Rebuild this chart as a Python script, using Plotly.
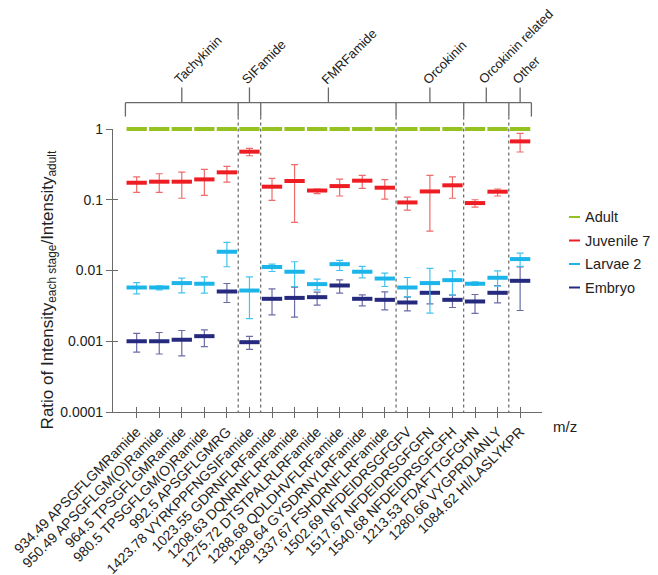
import plotly.graph_objects as go

labels = [
    "934.49 APSGFLGMRamide", "950.49 APSGFLGM(O)Ramide", "964.5 TPSGFLGMRamide",
    "980.5 TPSGFLGM(O)Ramide", "992.5 APSGFLGMRG", "1423.78 VYRKPPFNGSIFamide",
    "1023.55 GDRNFLRFamide", "1208.63 DQNRNFLRFamide", "1275.72 DTSTPALRLRFamide",
    "1288.68 QDLDHVFLRFamide", "1289.64 GYSDRNYLRFamide", "1337.67 FSHDRNFLRFamide",
    "1502.69 NFDEIDRSGFGFV", "1517.67 NFDEIDRSGFGFN", "1540.68 NFDEIDRSGFGFH",
    "1213.53 FDAFTTGFGHN", "1280.66 VYGPRDIANLY", "1084.62 HI/LASLYKPR",
]
groups = ["Tachykinin", "SIFamide", "FMRFamide", "Orcokinin", "Orcokinin related", "Other"]
group_sizes = [5, 1, 6, 3, 2, 1]

series_names = ["Adult", "Juvenile 7", "Larvae 2", "Embryo"]

adult = [1, 1, 1, 1, 1, 1, 1, 1, 1, 1, 1, 1, 1, 1, 1, 1, 1, 1]

juvenile = [0.174, 0.18, 0.18, 0.194, 0.244, 0.478, 0.153, 0.184, 0.135, 0.156,
            0.186, 0.148, 0.0916, 0.131, 0.16, 0.0898, 0.13, 0.668]
juvenile_hi = [0.21, 0.233, 0.246, 0.268, 0.296, 0.532, 0.2, 0.313, 0.142, 0.196,
               0.221, 0.192, 0.109, 0.221, 0.211, 0.1, 0.142, 0.867]
juvenile_lo = [0.127, 0.127, 0.105, 0.115, 0.178, 0.419, 0.098, 0.048, 0.122, 0.113,
               0.145, 0.102, 0.0715, 0.036, 0.105, 0.0788, 0.113, 0.473]

larvae = [0.00575, 0.00575, 0.00664, 0.0065, 0.0184, 0.00521, 0.0112, 0.0096, 0.00642, 0.0123,
          0.0096, 0.0077, 0.00575, 0.00664, 0.00731, 0.0065, 0.00789, 0.0145]
larvae_hi = [0.00676, 0.00608, 0.0078, 0.00813, 0.0249, 0.00813, 0.0123, 0.0133, 0.00755, 0.0139,
             0.0114, 0.00919, 0.00796, 0.0107, 0.0099, 0.00692, 0.0099, 0.0176]
larvae_lo = [0.00468, 0.00533, 0.00484, 0.0048, 0.0113, 0.00209, 0.00968, 0.00594, 0.00533, 0.01,
             0.00789, 0.00594, 0.00428, 0.0025, 0.00453, 0.00614, 0.006, 0.0114]

embryo = [0.001, 0.001, 0.00105, 0.00118, 0.00505, 0.00097, 0.00398, 0.0041, 0.0042, 0.00614,
          0.00398, 0.00385, 0.00353, 0.00484, 0.00385, 0.00365, 0.00484, 0.00715]
embryo_hi = [0.00129, 0.00133, 0.00142, 0.00145, 0.00655, 0.00117, 0.0055, 0.00582, 0.00494, 0.00738,
             0.00453, 0.005, 0.0042, 0.00664, 0.0045, 0.00458, 0.00614, 0.0112]
embryo_lo = [0.0007, 0.00066, 0.00062, 0.00084, 0.00353, 0.00077, 0.00236, 0.00219, 0.00323, 0.00478,
             0.00316, 0.00278, 0.00269, 0.00338, 0.003, 0.00247, 0.00349, 0.00272]

ytick_vals = [1, 0.1, 0.01, 0.001, 0.0001]
ytick_text = ["1", "0.1", "0.01", "0.001", "0.0001"]

FONT = "Liberation Sans, Arial, sans-serif"
mean_colors = {"Adult": "#95c121", "Juvenile 7": "#ee1d23", "Larvae 2": "#1cb5ea", "Embryo": "#252a7e"}
err_colors = {"Juvenile 7": "#ef6a6a", "Larvae 2": "#45c3ef", "Embryo": "#6b6ca6"}

fig = go.Figure()

n = len(labels)
XR = [-1.05, n - 0.03]


def add_series(name, vals, hi=None, lo=None):
    err = None
    if hi is not None:
        err = dict(type="data", symmetric=False,
                   array=[h - v for h, v in zip(hi, vals)],
                   arrayminus=[v - l for v, l in zip(vals, lo)],
                   color=err_colors[name], thickness=1.2, width=3.5)
    fig.add_trace(go.Scatter(
        x=labels, y=vals, mode="markers", name=name, showlegend=False,
        marker=dict(symbol="line-ew", size=14.5,
                    line=dict(width=4, color=mean_colors[name])),
        error_y=err, cliponaxis=False,
    ))


add_series("Embryo", embryo, embryo_hi, embryo_lo)
add_series("Larvae 2", larvae, larvae_hi, larvae_lo)
add_series("Juvenile 7", juvenile, juvenile_hi, juvenile_lo)
add_series("Adult", adult)

# dummy trace for overlay axes (crossing ticks)
fig.add_trace(go.Scatter(x=[None], y=[None], xaxis="x2", yaxis="y2", showlegend=False))

# page body has an 8px margin: figure is sized to fit the 658x575 window
PAGE_OFF = 8
W, H = 658 - PAGE_OFF, 575 - PAGE_OFF
PL, PT, PR, PB = 113 - PAGE_OFF, 129 - PAGE_OFF, 116, 163

axis_col = "#6a6a6a"
fig.update_layout(
    width=W, height=H, autosize=False,
    margin=dict(l=PL, r=PR, t=PT, b=PB, autoexpand=False),
    plot_bgcolor="white", paper_bgcolor="white",
    font=dict(family=FONT, size=14, color="#222"),
    showlegend=False,
    xaxis=dict(type="category", categoryorder="array", categoryarray=labels, range=XR,
               automargin=False,
               showline=True, linecolor=axis_col, linewidth=1.3, ticks="outside", ticklen=5,
               tickcolor=axis_col, tickwidth=1.2, tickangle=-45, showgrid=False, zeroline=False,
               tickfont=dict(family=FONT, size=14, color="#222")),
    yaxis=dict(type="log", range=[-4, 0], tickvals=ytick_vals, ticktext=ytick_text,
               automargin=False,
               showline=True, linecolor=axis_col, linewidth=1.3, ticks="outside", ticklen=6,
               tickcolor=axis_col, tickwidth=1.2, showgrid=False, zeroline=False,
               tickfont=dict(family=FONT, size=14, color="#222")),
    xaxis2=dict(overlaying="x", anchor="y", range=XR, tickvals=list(range(n)), ticks="inside",
                automargin=False,
                ticklen=5, tickcolor=axis_col, tickwidth=1.2, showticklabels=False,
                showline=False, showgrid=False, zeroline=False),
    yaxis2=dict(overlaying="y", anchor="x", type="log", range=[-4, 0], tickvals=ytick_vals,
                automargin=False,
                ticks="inside", ticklen=5, tickcolor=axis_col, tickwidth=1.2,
                showticklabels=False, showline=False, showgrid=False, zeroline=False),
)

# group brackets
bounds = [-0.5]
for s in group_sizes:
    bounds.append(bounds[-1] + s)
centers = [(bounds[i] + bounds[i + 1]) / 2 for i in range(len(group_sizes))]

Y_BR = 1.093
Y_DROP = 1.044
Y_TOP = 1.147
line_style = dict(color=axis_col, width=1.3)
fig.add_shape(type="line", xref="x", yref="paper", x0=bounds[0], x1=bounds[-1],
              y0=Y_BR, y1=Y_BR, line=line_style)
for b in bounds:
    fig.add_shape(type="line", xref="x", yref="paper", x0=b, x1=b, y0=Y_BR, y1=Y_DROP,
                  line=line_style)
for b in bounds[1:-1]:
    fig.add_shape(type="line", xref="x", yref="paper", x0=b, x1=b, y0=Y_DROP, y1=0,
                  line=dict(color="#444", width=1, dash="dot"))
for c, g in zip(centers, groups):
    fig.add_shape(type="line", xref="x", yref="paper", x0=c, x1=c, y0=Y_BR, y1=Y_TOP,
                  line=line_style)
    fig.add_annotation(x=c, y=Y_TOP - 0.008, xref="x", yref="paper", text=g, showarrow=False,
                       textangle=-45, xanchor="left", yanchor="bottom", xshift=-13,
                       font=dict(family=FONT, size=13, color="#222"))

# y-axis title
fig.add_annotation(xref="paper", yref="paper", x=-0.149, y=0.43,
                   text="Ratio of Intensity<sub>each stage</sub>/Intensity<sub>adult</sub>",
                   textangle=-90, showarrow=False, xanchor="center", yanchor="middle",
                   font=dict(family=FONT, size=17, color="#222"))

# m/z label
fig.add_annotation(xref="paper", yref="paper", x=1.022, y=-0.053, text="m/z", showarrow=False,
                   xanchor="left", yanchor="middle", font=dict(family=FONT, size=15, color="#222"))

# manual legend
leg_y_px = [217, 240.5, 264, 287.5]
for name, ypx in zip(series_names, leg_y_px):
    yp = (412 - ypx) / 283
    fig.add_shape(type="line", xref="paper", yref="paper",
                  x0=(569 - 113) / 429, x1=(580 - 113) / 429, y0=yp, y1=yp,
                  line=dict(color=mean_colors[name], width=2))
    fig.add_annotation(xref="paper", yref="paper", x=(583 - 113) / 429, y=yp, text=name,
                       showarrow=False, xanchor="left", yanchor="middle",
                       font=dict(family=FONT, size=14.5, color="#222"))

fig.write_html("out.html")
